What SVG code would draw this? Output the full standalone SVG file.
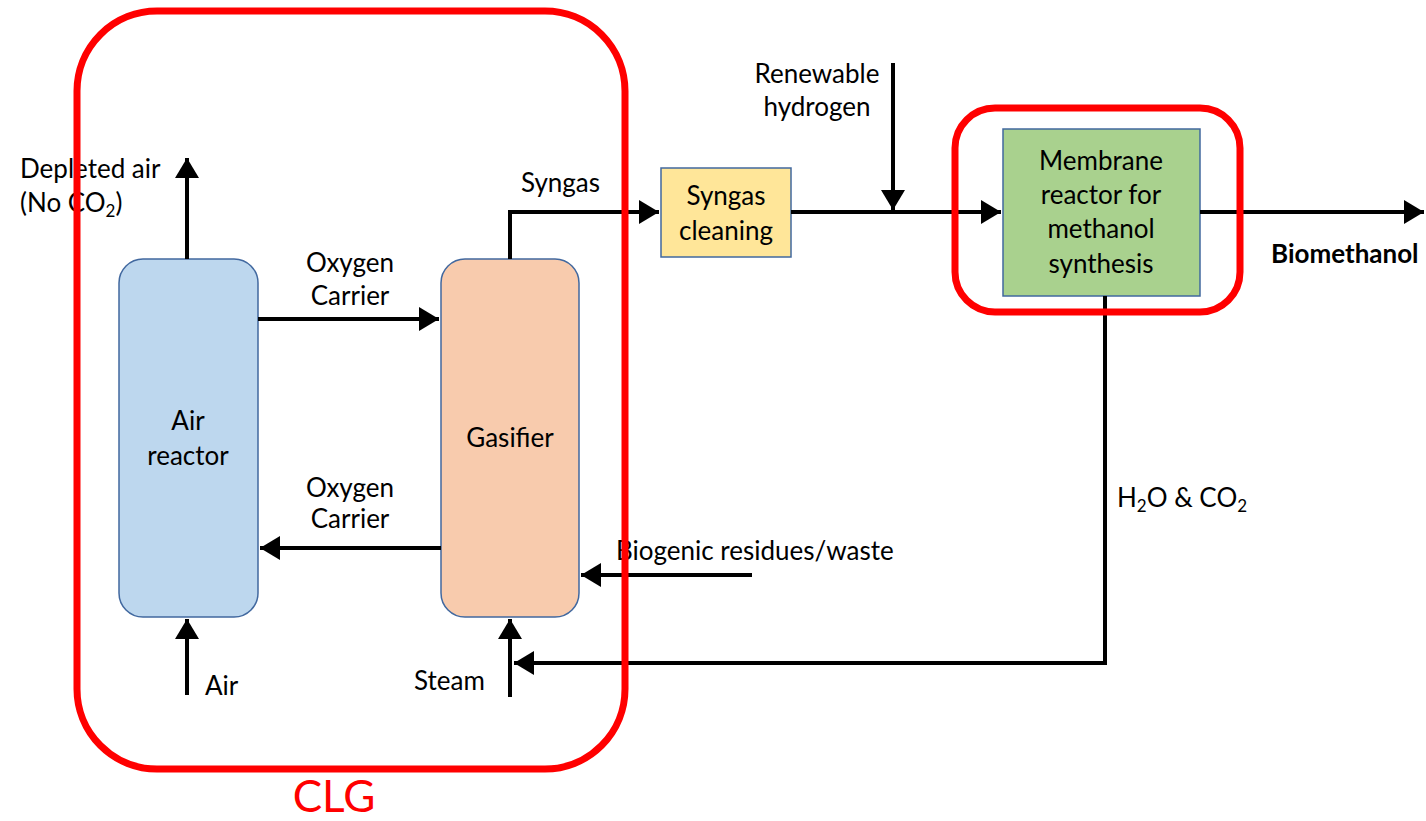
<svg xmlns="http://www.w3.org/2000/svg" width="1426" height="821" viewBox="0 0 1426 821">
<style>
text{font-family:Lato,"Liberation Sans",sans-serif;font-size:26px;fill:#000}
.c{text-anchor:middle}
.ln{fill:none;stroke:#000;stroke-width:4}
.red{fill:none;stroke:#FF0000;stroke-width:7}
.node{stroke:#41689f;stroke-width:1.5}
</style>
<defs>
<marker id="ah" markerWidth="6" markerHeight="6" refX="5" refY="3" orient="auto" markerUnits="strokeWidth">
<path d="M0,0 L5,3 L0,6 z" fill="#000"/>
</marker>
</defs>
<rect width="1426" height="821" fill="#fff"/>
<g id="air-reactor">
<rect class="node" x="119" y="259" width="139" height="358" rx="24" fill="#BDD7EE"/>
<text class="c" x="188" y="430">Air</text>
<text class="c" x="188" y="465">reactor</text>
</g>
<g id="gasifier">
<rect class="node" x="441" y="259" width="138" height="358" rx="24" fill="#F8CBAD"/>
<text class="c" x="510" y="447">Gasifier</text>
</g>
<g id="syngas-cleaning">
<rect class="node" x="661" y="168" width="130" height="89" fill="#FFE699"/>
<text class="c" x="726" y="205">Syngas</text>
<text class="c" x="726" y="240">cleaning</text>
</g>
<g id="membrane-reactor">
<rect class="node" x="1003" y="129" width="197" height="167" fill="#A9D18E"/>
<text class="c" x="1101" y="170">Membrane</text>
<text class="c" x="1101" y="204">reactor for</text>
<text class="c" x="1101" y="238">methanol</text>
<text class="c" x="1101" y="273">synthesis</text>
</g>
<g id="connectors">
<path class="ln" d="M187,259 V158" marker-end="url(#ah)"/>
<path class="ln" d="M258,319 H439" marker-end="url(#ah)"/>
<path class="ln" d="M441,548 H260" marker-end="url(#ah)"/>
<path class="ln" d="M510,259 V212 H659" marker-end="url(#ah)"/>
<path class="ln" d="M791,212 H1001" marker-end="url(#ah)"/>
<path class="ln" d="M893,63 V210" marker-end="url(#ah)"/>
<path class="ln" d="M1200,212 H1424" marker-end="url(#ah)"/>
<path class="ln" d="M752,575 H581" marker-end="url(#ah)"/>
<path class="ln" d="M510,697 V619" marker-end="url(#ah)"/>
<path class="ln" d="M187,695 V619" marker-end="url(#ah)"/>
<path class="ln" d="M1105,296 V663 H514" marker-end="url(#ah)"/>
</g>
<g id="labels">
<text x="20" y="178">Depleted air</text>
<text x="20" y="212">(No CO<tspan font-size="17" dy="5">2</tspan><tspan dy="-5">)</tspan></text>
<text class="c" x="350" y="272">Oxygen</text>
<text class="c" x="350" y="305">Carrier</text>
<text class="c" x="350" y="497">Oxygen</text>
<text class="c" x="350" y="528">Carrier</text>
<text x="521" y="192">Syngas</text>
<text class="c" x="817" y="83">Renewable</text>
<text class="c" x="817" y="116">hydrogen</text>
<text x="1271" y="263" font-weight="bold">Biomethanol</text>
<text x="616" y="560">Biogenic residues/waste</text>
<text x="1117" y="507">H<tspan font-size="17" dy="5">2</tspan><tspan dy="-5">O &amp; CO</tspan><tspan font-size="17" dy="5">2</tspan></text>
<text x="414" y="690">Steam</text>
<text x="205" y="695">Air</text>
</g>
<g id="clg">
<rect class="red" x="77" y="11" width="548" height="758" rx="80"/>
<text class="c" x="334" y="812" style="font-size:44px;fill:#FF0000">CLG</text>
</g>
<g id="membrane-group">
<rect class="red" x="955" y="108" width="285" height="204" rx="40"/>
</g>
</svg>
